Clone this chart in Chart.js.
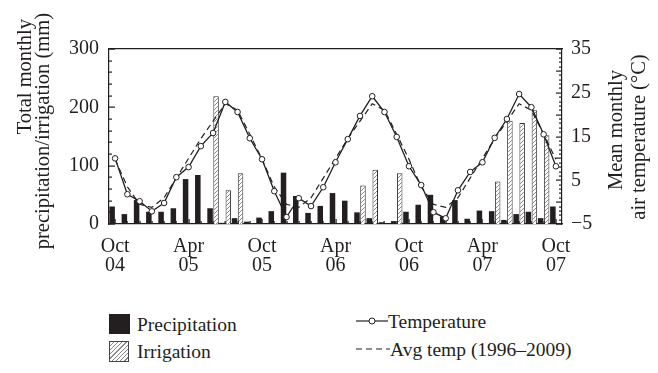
<!DOCTYPE html>
<html>
<head>
<meta charset="utf-8">
<script src="https://cdn.jsdelivr.net/npm/chart.js@4.4.1/dist/chart.umd.min.js"></script>
<style>
  html, body { margin: 0; padding: 0; background: #fff; }
  #wrap { position: relative; width: 658px; height: 373px; font-family: 'Liberation Serif', 'Times New Roman', serif; color: #231f20; }
  #chart { position: absolute; left: 0; top: 0; }
  .lg { position: absolute; font-size: 19.5px; line-height: 20px; white-space: nowrap; }
  .sw { position: absolute; }
  .hatch { background: repeating-linear-gradient(-45deg, #fff 0 2px, #888 2px 3px); border: 1px solid #444; }
</style>
</head>
<body>
<div id="wrap">
  <canvas id="chart" width="658" height="280"></canvas>

  <div class="sw" style="left:109px;top:314px;width:21px;height:20px;background:#231f20"></div>
  <div class="lg" style="left:137px;top:315px">Precipitation</div>
  <div class="sw hatch" style="left:109px;top:341px;width:18px;height:19px"></div>
  <div class="lg" style="left:137px;top:342px">Irrigation</div>

  <svg class="sw" style="left:356px;top:313px" width="32" height="16">
    <line x1="0" y1="8" x2="32" y2="8" stroke="#231f20" stroke-width="1.2"/>
    <circle cx="16" cy="8" r="3" fill="#fff" stroke="#231f20" stroke-width="1"/>
  </svg>
  <div class="lg" style="left:388px;top:312px">Temperature</div>
  <svg class="sw" style="left:356px;top:341px" width="34" height="16">
    <line x1="0" y1="8" x2="34" y2="8" stroke="#231f20" stroke-width="1.2" stroke-dasharray="6 4"/>
  </svg>
  <div class="lg" style="left:390px;top:340px">Avg temp (1996–2009)</div>
</div>

<script>
// monthly data, Oct 2004 .. Oct 2007
const months = ['Oct 04', 'Nov 04', 'Dec 04', 'Jan 05', 'Feb 05', 'Mar 05', 'Apr 05', 'May 05', 'Jun 05', 'Jul 05', 'Aug 05', 'Sep 05',
    'Oct 05', 'Nov 05', 'Dec 05', 'Jan 06', 'Feb 06', 'Mar 06', 'Apr 06', 'May 06', 'Jun 06', 'Jul 06', 'Aug 06', 'Sep 06',
    'Oct 06', 'Nov 06', 'Dec 06', 'Jan 07', 'Feb 07', 'Mar 07', 'Apr 07', 'May 07', 'Jun 07', 'Jul 07', 'Aug 07', 'Sep 07',
    'Oct 07'];

const precipitation = [30, 17, 41, 21, 21, 27, 77, 84, 27, 2, 10, 4,
    11, 22, 88, 48, 19, 31, 53, 40, 20, 10, 3, 5,
    21, 33, 50, 13, 41, 9, 23, 22, 7, 17, 21, 10,
    30];

const irrigation = [0, 0, 0, 0, 0, 0, 0, 0, 219, 58, 87, 0,
    0, 0, 0, 0, 0, 0, 0, 0, 66, 93, 0, 87,
    0, 0, 0, 0, 0, 0, 0, 73, 177, 173, 195, 152,
    0];

const temperature = [10, 1.8, 0.2, -2.1, -0.2, 5.7, 8, 12.8, 15.8, 22.9, 20.6, 14.6,
    9.8, 2.5, -3.4, 0.9, -0.9, 3.4, 9.1, 14.4, 19.7, 24.2, 20.6, 14.9,
    8.2, 3.9, -2.3, -3.7, 2.7, 6.9, 9.1, 14.7, 19, 24.7, 21.7, 15.5,
    8.2];

const avgTemp = [9.8, 3.5, -0.5, -1.2, 1, 5.5, 10, 14.5, 18.5, 22.5, 21, 15.5,
    9.8, 3.5, -0.5, -1.2, 1, 5.5, 10, 14.5, 18.5, 22.5, 21, 15.5,
    9.8, 3.5, -0.5, -1.2, 1, 5.5, 10, 14.5, 18.5, 22.5, 21, 15.5,
    9.8];

const INK = '#231f20';
const FONT = "'Liberation Serif', 'Times New Roman', serif";

function hatchPattern() {
    const c = document.createElement('canvas');
    c.width = 4;
    c.height = 4;
    const g = c.getContext('2d');
    g.fillStyle = '#fff';
    g.fillRect(0, 0, 4, 4);
    g.strokeStyle = '#888';
    g.lineWidth = 1;
    g.beginPath();
    g.moveTo(0, 4);
    g.lineTo(4, 0);
    g.stroke();
    return g.createPattern(c, 'repeat');
}

// inner tick marks and the two axis titles
const plotFrame = {
    id: 'plotFrame',
    afterDraw(chart) {
        const c = chart.ctx;
        const a = chart.chartArea;
        const sx = chart.scales.x, sy = chart.scales.y, sy1 = chart.scales.y1;
        c.save();
        c.fillStyle = INK;
        for (let v = 0; v <= 300; v += 20) {
            const y = Math.round(sy.getPixelForValue(v)) - 0.5;
            c.fillRect(a.left, y, v % 100 === 0 ? 6 : 3, 1.2);
        }
        for (let v = -5; v <= 35; v++) {
            const y = Math.round(sy1.getPixelForValue(v)) - 0.5;
            const len = v % 5 === 0 ? 6 : 3;
            c.fillRect(a.right - len, y, len, 1.2);
        }
        for (let i = 0; i < months.length; i++) {
            const x = Math.round(sx.getPixelForValue(i)) - 0.5;
            const len = i % 6 === 0 ? 5 : 3;
            c.fillRect(x, a.bottom - len, 1.2, len);
        }

        c.font = '20.5px ' + FONT;
        c.textBaseline = 'middle';
        const vtext = (text, x, y, align) => {
            c.save();
            c.translate(x, y);
            c.rotate(-Math.PI / 2);
            c.textAlign = align;
            c.fillText(text, 0, 0);
            c.restore();
        };
        vtext('Total monthly', 26, 19, 'right');
        vtext('precipitation/irrigation (mm)', 44, 13, 'right');
        vtext('Mean monthly', 617, 130, 'center');
        vtext('air temperature (°C)', 640, 137, 'center');
        c.restore();
    }
};

const edge = { display: true, color: INK, width: 1.2 };

const ctx = document.getElementById('chart').getContext('2d');
new Chart(ctx, {
    type: 'bar',
    data: {
        labels: months,
        datasets: [
            {
                type: 'line', label: 'Temperature', data: temperature, yAxisID: 'y1', order: 0,
                borderColor: INK, borderWidth: 1.3, tension: 0,
                pointRadius: 2.8, pointBackgroundColor: '#fff', pointBorderColor: INK, pointBorderWidth: 1
            },
            {
                type: 'line', label: 'Avg temp (1996–2009)', data: avgTemp, yAxisID: 'y1', order: 1,
                borderColor: INK, borderWidth: 1.2, borderDash: [6, 4], pointRadius: 0, tension: 0
            },
            {
                label: 'Precipitation', data: precipitation, yAxisID: 'y', order: 2,
                backgroundColor: INK, borderWidth: 0,
                categoryPercentage: 0.98, barPercentage: 0.92
            },
            {
                label: 'Irrigation', data: irrigation, yAxisID: 'y', order: 2,
                backgroundColor: hatchPattern(), borderColor: '#333', borderWidth: 1,
                categoryPercentage: 0.98, barPercentage: 0.92
            }
        ]
    },
    options: {
        responsive: false,
        animation: false,
        layout: { padding: { top: 49, left: 0, right: 0, bottom: 0 } },
        plugins: { legend: { display: false }, tooltip: { enabled: false } },
        scales: {
            x: {
                grid: { display: false },
                border: edge,
                ticks: {
                    autoSkip: false, maxRotation: 0, minRotation: 0, padding: 5,
                    color: INK, font: { family: FONT, size: 20, lineHeight: 0.95 },
                    callback: (value, index) => index % 6 === 0 ? months[index].split(' ') : ''
                },
                afterFit: s => { s.height = 56; }
            },
            xTop: {
                position: 'top', type: 'category',
                grid: { display: false, drawTicks: false },
                border: edge,
                ticks: { display: false },
                afterFit: s => { s.height = 0; }
            },
            y: {
                position: 'left', min: 0, max: 300,
                grid: { display: false, drawTicks: false },
                border: edge,
                ticks: { stepSize: 100, padding: 10, color: INK, font: { family: FONT, size: 20 } },
                afterFit: s => { s.width = 109; }
            },
            y1: {
                position: 'right', min: -5, max: 35,
                grid: { display: false, drawTicks: false },
                border: edge,
                ticks: {
                    stepSize: 5, padding: 9, color: INK, font: { family: FONT, size: 20 },
                    callback: v => v < 0 ? '−' + Math.abs(v) : v
                },
                afterFit: s => { s.width = 96; }
            }
        }
    },
    plugins: [plotFrame]
});
</script>
</body>
</html>
